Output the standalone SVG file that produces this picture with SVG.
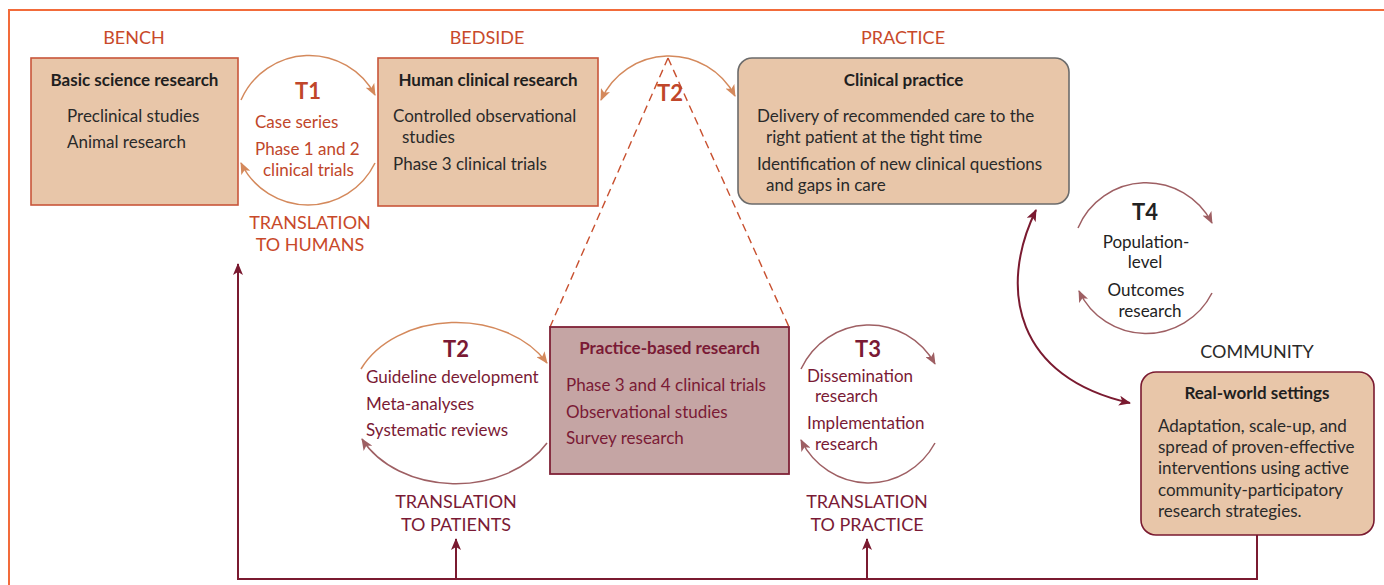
<svg xmlns="http://www.w3.org/2000/svg" width="1384" height="585" viewBox="0 0 1384 585">
<style>
text{font-family:Lato,"Liberation Sans",sans-serif;}
.hdr{font-size:18px;fill:#C8492A;text-anchor:middle;}
.comm{font-size:18px;fill:#2a2a2a;text-anchor:middle;}
.ttl{font-size:17px;font-weight:bold;fill:#1f1f1f;text-anchor:middle;}
.body{font-size:17px;fill:#2a2a2a;}
.mid{text-anchor:middle;}
.tl{font-size:22px;font-weight:bold;text-anchor:middle;}
.or{fill:#C0462A;}
.mr{fill:#7A1A35;}
.dk{fill:#222;}
.box{fill:#E8C6A9;stroke-width:1.6;}
.arcO{fill:none;stroke:#D4895C;stroke-width:1.5;}
.arcM{fill:none;stroke:#9E5F63;stroke-width:1.5;}
.con{fill:none;stroke:#7A1A30;stroke-width:2;}
.dash{fill:none;stroke:#C8502F;stroke-width:1.4;stroke-dasharray:8 5;}
</style>
<defs>
<marker id="ahO" viewBox="0 0 12 10" refX="11" refY="5" markerWidth="12" markerHeight="10" markerUnits="userSpaceOnUse" orient="auto-start-reverse"><path d="M0,0 L12,5 L0,10 L3,5 z" fill="#D4895C"/></marker>
<marker id="ahM" viewBox="0 0 12 10" refX="11" refY="5" markerWidth="12" markerHeight="10" markerUnits="userSpaceOnUse" orient="auto-start-reverse"><path d="M0,0 L12,5 L0,10 L3,5 z" fill="#9E5F63"/></marker>
<marker id="ahD" viewBox="0 0 12 10" refX="11" refY="5" markerWidth="13" markerHeight="10" markerUnits="userSpaceOnUse" orient="auto-start-reverse"><path d="M0,0 L12,5 L0,10 L3,5 z" fill="#7A1A30"/></marker>
</defs>
<rect x="9" y="10" width="1400" height="600" fill="none" stroke="#F26B3A" stroke-width="2"/>

<text class="hdr" x="134" y="44">BENCH</text>
<text class="hdr" x="487" y="44">BEDSIDE</text>
<text class="hdr" x="903" y="44">PRACTICE</text>
<text class="comm" x="1257" y="358">COMMUNITY</text>

<g id="connectors">
<line class="dash" x1="668" y1="58" x2="550" y2="327"/>
<line class="dash" x1="668" y1="58" x2="789" y2="327"/>
<path class="arcO" d="M241,100 A74.5,74.5 0 0 1 375,95" marker-end="url(#ahO)"/>
<path class="arcO" d="M375,163 A74.5,74.5 0 0 1 241,163" marker-end="url(#ahO)"/>
<path class="arcO" d="M601,100 A74.5,74.5 0 0 1 735,96" marker-start="url(#ahO)" marker-end="url(#ahO)"/>
<path class="arcO" d="M361,369 A104,78.5 0 0 1 547,363" marker-end="url(#ahO)"/>
<path class="arcM" d="M547,443 A104,78.5 0 0 1 362,439" marker-end="url(#ahM)"/>
<path class="arcM" d="M801,369 A76,78.5 0 0 1 935,364" marker-end="url(#ahM)"/>
<path class="arcM" d="M935,443 A76,78.5 0 0 1 801,440" marker-end="url(#ahM)"/>
<path class="arcM" d="M1078,228 A74,74 0 0 1 1212,223" marker-end="url(#ahM)"/>
<path class="arcM" d="M1212,293 A74,74 0 0 1 1079,291" marker-end="url(#ahM)"/>
<path class="con" d="M1036,210 C997,290 1017,378 1130,403" marker-start="url(#ahD)" marker-end="url(#ahD)"/>
<path class="con" d="M1257,535 V579 H238 V264" marker-end="url(#ahD)"/>
<path class="con" d="M456,579 V539" marker-end="url(#ahD)"/>
<path class="con" d="M867,579 V539" marker-end="url(#ahD)"/>
</g>

<g id="basic">
<rect class="box" x="31" y="58" width="207" height="147" stroke="#C8553A"/>
<text class="ttl" x="134.5" y="86">Basic science research</text>
<text class="body" x="67" y="122">Preclinical studies</text>
<text class="body" x="67" y="148">Animal research</text>
</g>

<g id="t1">
<text class="tl or" x="308" y="99">T1</text>
<text class="body or" x="255" y="128">Case series</text>
<text class="body or" x="255" y="155">Phase 1 and 2</text>
<text class="body or" x="263" y="176">clinical trials</text>
<text class="hdr" x="310" y="229">TRANSLATION</text>
<text class="hdr" x="310" y="251">TO HUMANS</text>
</g>

<g id="human">
<rect class="box" x="378" y="58" width="220" height="148" stroke="#C8553A"/>
<text class="ttl" x="488" y="86">Human clinical research</text>
<text class="body" x="393" y="122">Controlled observational</text>
<text class="body" x="402" y="143">studies</text>
<text class="body" x="393" y="170">Phase 3 clinical trials</text>
</g>

<g id="t2top">
<text class="tl or" x="670" y="101">T2</text>
</g>

<g id="clinical">
<rect class="box" x="738" y="58" width="331" height="146" rx="14" stroke="#6B6B6B"/>
<text class="ttl" x="903.5" y="86">Clinical practice</text>
<text class="body" x="757" y="122">Delivery of recommended care to the</text>
<text class="body" x="766" y="143">right patient at the tight time</text>
<text class="body" x="757" y="170">Identification of new clinical questions</text>
<text class="body" x="766" y="191">and gaps in care</text>
</g>

<g id="t4">
<text class="tl dk" x="1145" y="220">T4</text>
<text class="body dk mid" x="1146" y="248">Population-</text>
<text class="body dk mid" x="1145" y="268">level</text>
<text class="body dk mid" x="1146" y="296">Outcomes</text>
<text class="body dk mid" x="1150" y="317">research</text>
</g>

<g id="t2left">
<text class="tl mr" x="456" y="357">T2</text>
<text class="body mr" x="366" y="383">Guideline development</text>
<text class="body mr" x="366" y="410">Meta-analyses</text>
<text class="body mr" x="366" y="436">Systematic reviews</text>
<text class="hdr mr" x="456" y="508">TRANSLATION</text>
<text class="hdr mr" x="456" y="531">TO PATIENTS</text>
</g>

<g id="practicebased">
<rect x="550" y="327" width="239" height="147" fill="#C5A5A4" stroke="#7F2237" stroke-width="1.8"/>
<text class="ttl mr" x="669.5" y="354">Practice-based research</text>
<text class="body mr" x="566" y="391">Phase 3 and 4 clinical trials</text>
<text class="body mr" x="566" y="418">Observational studies</text>
<text class="body mr" x="566" y="444">Survey research</text>
</g>

<g id="t3">
<text class="tl mr" x="868" y="357">T3</text>
<text class="body mr" x="807" y="382">Dissemination</text>
<text class="body mr" x="815" y="402">research</text>
<text class="body mr" x="807" y="429">Implementation</text>
<text class="body mr" x="815" y="450">research</text>
<text class="hdr mr" x="867" y="508">TRANSLATION</text>
<text class="hdr mr" x="867" y="531">TO PRACTICE</text>
</g>

<g id="realworld">
<rect class="box" x="1141" y="372" width="233" height="163" rx="15" stroke="#7A1A30"/>
<text class="ttl" x="1257" y="399">Real-world settings</text>
<text class="body" x="1158" y="432">Adaptation, scale-up, and</text>
<text class="body" x="1158" y="453">spread of proven-effective</text>
<text class="body" x="1158" y="474">interventions using active</text>
<text class="body" x="1158" y="496">community-participatory</text>
<text class="body" x="1158" y="517">research strategies.</text>
</g>
</svg>
